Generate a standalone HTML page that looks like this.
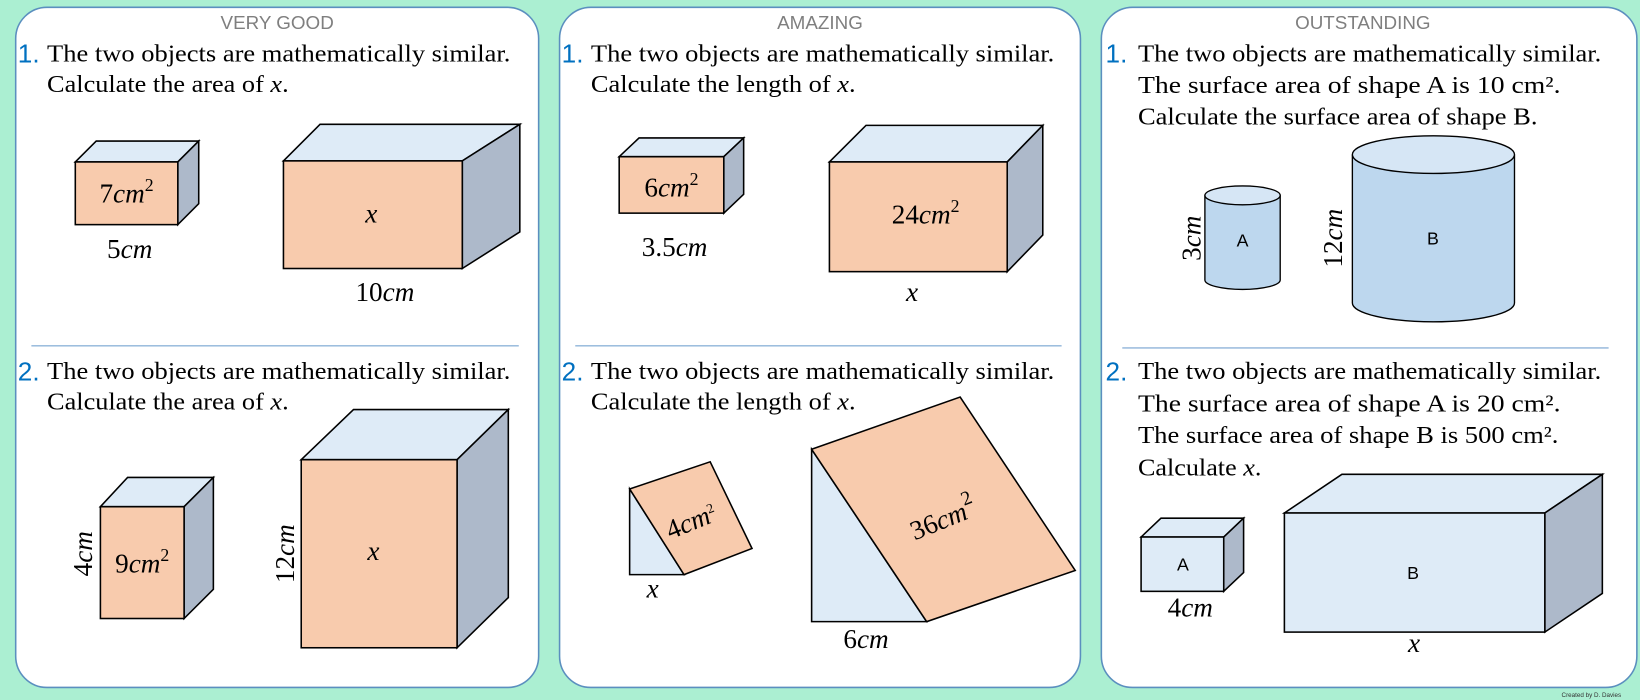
<!DOCTYPE html>
<html><head><meta charset="utf-8"><style>
html,body{margin:0;padding:0;background:#abefd2;}
svg{display:block}
.t{font-family:"Liberation Serif",serif;font-size:23px;fill:#000}
.n{font-family:"Liberation Sans",sans-serif;font-size:25px;fill:#0070c0}
.h{font-family:"Liberation Sans",sans-serif;font-size:18px;fill:#7f7f7f;text-anchor:middle}
.m{font-family:"Liberation Serif",serif;font-style:italic;font-size:26px;fill:#000;text-anchor:middle}
.m tspan.d{font-style:normal}
.l{font-family:"Liberation Sans",sans-serif;font-size:17px;fill:#000;text-anchor:middle}
.f{fill:#f8cbad;stroke:#000;stroke-width:1.5}
.tp{fill:#deebf7;stroke:#000;stroke-width:1.5}
.sd{fill:#adb9ca;stroke:#000;stroke-width:1.5}
.cy{fill:#bdd7ee;stroke:#000;stroke-width:1.3}
.ct{fill:#d6e6f5;stroke:#000;stroke-width:1.3}
.sep{stroke:#8fb4d9;stroke-width:1.3}
</style></head><body>
<svg width="1640" height="700" viewBox="0 0 1568 670" preserveAspectRatio="none" xmlns="http://www.w3.org/2000/svg">
<rect width="1568" height="670" fill="#abefd2"/>
<rect x="15" y="7" width="500" height="651" rx="30" fill="#fff" stroke="#5b8fbf" stroke-width="1.5"/>
<rect x="535" y="7" width="498" height="651" rx="30" fill="#fff" stroke="#5b8fbf" stroke-width="1.5"/>
<rect x="1053" y="7" width="512" height="651" rx="30" fill="#fff" stroke="#5b8fbf" stroke-width="1.5"/>

<!-- Panel 1 -->
<text class="h" x="265" y="28">VERY GOOD</text>
<text class="n" x="17" y="60">1.</text>
<text class="t" x="45" y="59" textLength="443" lengthAdjust="spacingAndGlyphs">The two objects are mathematically similar.</text>
<text class="t" x="45" y="88" textLength="231" lengthAdjust="spacingAndGlyphs">Calculate the area of <tspan font-style="italic">x</tspan>.</text>
<polygon class="tp" points="72,155 92,135 190,135 170,155"/>
<polygon class="sd" points="170,155 190,135 190,195 170,215"/>
<rect class="f" x="72" y="155" width="98" height="60"/>
<text class="m" x="121" y="194"><tspan class="d">7</tspan>cm<tspan class="d" font-size="17" dy="-11">2</tspan></text>
<text class="m" x="124" y="247"><tspan class="d">5</tspan>cm</text>
<polygon class="tp" points="271,154 306,119 497,119 442,154"/>
<polygon class="sd" points="442,154 497,119 497,222 442,257"/>
<rect class="f" x="271" y="154" width="171" height="103"/>
<text class="m" x="355" y="213">x</text>
<text class="m" x="368" y="288"><tspan class="d">10</tspan>cm</text>
<line class="sep" x1="30" y1="331" x2="496" y2="331"/>
<text class="n" x="17" y="364">2.</text>
<text class="t" x="45" y="363" textLength="443" lengthAdjust="spacingAndGlyphs">The two objects are mathematically similar.</text>
<text class="t" x="45" y="392" textLength="231" lengthAdjust="spacingAndGlyphs">Calculate the area of <tspan font-style="italic">x</tspan>.</text>
<polygon class="tp" points="96,485 122,457 204,457 176,485"/>
<polygon class="sd" points="176,485 204,457 204,564 176,592"/>
<rect class="f" x="96" y="485" width="80" height="107"/>
<text class="m" x="136" y="548"><tspan class="d">9</tspan>cm<tspan class="d" font-size="17" dy="-11">2</tspan></text>
<text class="m" transform="translate(88,530) rotate(-90)" x="0" y="0"><tspan class="d">4</tspan>cm</text>
<polygon class="tp" points="288,440 338,392 486,392 437,440"/>
<polygon class="sd" points="437,440 486,392 486,572 437,620"/>
<rect class="f" x="288" y="440" width="149" height="180"/>
<text class="m" x="357" y="536">x</text>
<text class="m" transform="translate(281,530) rotate(-90)" x="0" y="0"><tspan class="d">12</tspan>cm</text>

<!-- Panel 2 -->
<text class="h" x="784" y="28">AMAZING</text>
<text class="n" x="537" y="60">1.</text>
<text class="t" x="565" y="59" textLength="443" lengthAdjust="spacingAndGlyphs">The two objects are mathematically similar.</text>
<text class="t" x="565" y="88" textLength="253" lengthAdjust="spacingAndGlyphs">Calculate the length of <tspan font-style="italic">x</tspan>.</text>
<polygon class="tp" points="592,150 611,132 711,132 692,150"/>
<polygon class="sd" points="692,150 711,132 711,186 692,204"/>
<rect class="f" x="592" y="150" width="100" height="54"/>
<text class="m" x="642" y="188"><tspan class="d">6</tspan>cm<tspan class="d" font-size="17" dy="-11">2</tspan></text>
<text class="m" x="645" y="245"><tspan class="d">3.5</tspan>cm</text>
<polygon class="tp" points="793,155 828,120 997,120 963,155"/>
<polygon class="sd" points="963,155 997,120 997,225 963,260"/>
<rect class="f" x="793" y="155" width="170" height="105"/>
<text class="m" x="885" y="214"><tspan class="d">24</tspan>cm<tspan class="d" font-size="17" dy="-11">2</tspan></text>
<text class="m" x="872" y="288">x</text>
<line class="sep" x1="550" y1="331" x2="1015" y2="331"/>
<text class="n" x="537" y="364">2.</text>
<text class="t" x="565" y="363" textLength="443" lengthAdjust="spacingAndGlyphs">The two objects are mathematically similar.</text>
<text class="t" x="565" y="392" textLength="253" lengthAdjust="spacingAndGlyphs">Calculate the length of <tspan font-style="italic">x</tspan>.</text>
<polygon class="tp" points="602,468 602,550 654,550"/>
<polygon class="f" points="602,468 679,442 719,525 654,550"/>
<text class="m" font-size="20" transform="translate(664,507) rotate(-22)"><tspan class="d">4</tspan>cm<tspan class="d" font-size="13" dy="-9">2</tspan></text>
<text class="m" x="624" y="572">x</text>
<polygon class="tp" points="776,430 776,595 886,595"/>
<polygon class="f" points="776,430 918,380 1028,546 886,595"/>
<text class="m" font-size="30" transform="translate(905,505) rotate(-22)"><tspan class="d">36</tspan>cm<tspan class="d" font-size="19" dy="-13">2</tspan></text>
<text class="m" x="828" y="620"><tspan class="d">6</tspan>cm</text>

<!-- Panel 3 -->
<text class="h" x="1303" y="28">OUTSTANDING</text>
<text class="n" x="1057" y="60">1.</text>
<text class="t" x="1088" y="59" textLength="443" lengthAdjust="spacingAndGlyphs">The two objects are mathematically similar.</text>
<text class="t" x="1088" y="89" textLength="404" lengthAdjust="spacingAndGlyphs">The surface area of shape A is 10 cm².</text>
<text class="t" x="1088" y="119" textLength="382" lengthAdjust="spacingAndGlyphs">Calculate the surface area of shape B.</text>
<path class="cy" d="M1152,187 L1152,268 A36,9 0 0 0 1224,268 L1224,187"/>
<ellipse class="ct" cx="1188" cy="187" rx="36" ry="9"/>
<text class="l" x="1188" y="236">A</text>
<text class="m" transform="translate(1148,228) rotate(-90)"><tspan class="d">3</tspan>cm</text>
<path class="cy" d="M1293,148 L1293,290 A77.5,18 0 0 0 1448,290 L1448,148"/>
<ellipse class="ct" cx="1370.5" cy="148" rx="77.5" ry="18"/>
<text class="l" x="1370" y="234">B</text>
<text class="m" transform="translate(1283,228) rotate(-90)"><tspan class="d">12</tspan>cm</text>
<line class="sep" x1="1073" y1="333" x2="1538" y2="333"/>
<text class="n" x="1057" y="364">2.</text>
<text class="t" x="1088" y="363" textLength="443" lengthAdjust="spacingAndGlyphs">The two objects are mathematically similar.</text>
<text class="t" x="1088" y="394" textLength="404" lengthAdjust="spacingAndGlyphs">The surface area of shape A is 20 cm².</text>
<text class="t" x="1088" y="424" textLength="402" lengthAdjust="spacingAndGlyphs">The surface area of shape B is 500 cm².</text>
<text class="t" x="1088" y="455" textLength="118" lengthAdjust="spacingAndGlyphs">Calculate <tspan font-style="italic">x</tspan>.</text>
<polygon class="tp" points="1091,514 1110,496 1189,496 1170,514"/>
<polygon class="sd" points="1170,514 1189,496 1189,548 1170,566"/>
<rect class="tp" x="1091" y="514" width="79" height="52"/>
<text class="l" x="1131" y="546">A</text>
<text class="m" x="1138" y="590"><tspan class="d">4</tspan>cm</text>
<polygon class="tp" points="1228,491 1283,454 1532,454 1477,491"/>
<polygon class="sd" points="1477,491 1532,454 1532,568 1477,605"/>
<rect class="tp" x="1228" y="491" width="249" height="114"/>
<text class="l" x="1351" y="554">B</text>
<text class="m" x="1352" y="624">x</text>
<text x="1493" y="667" font-family="Liberation Sans,sans-serif" font-size="6" fill="#333">Created by D. Davies</text>
</svg>
</body></html>
